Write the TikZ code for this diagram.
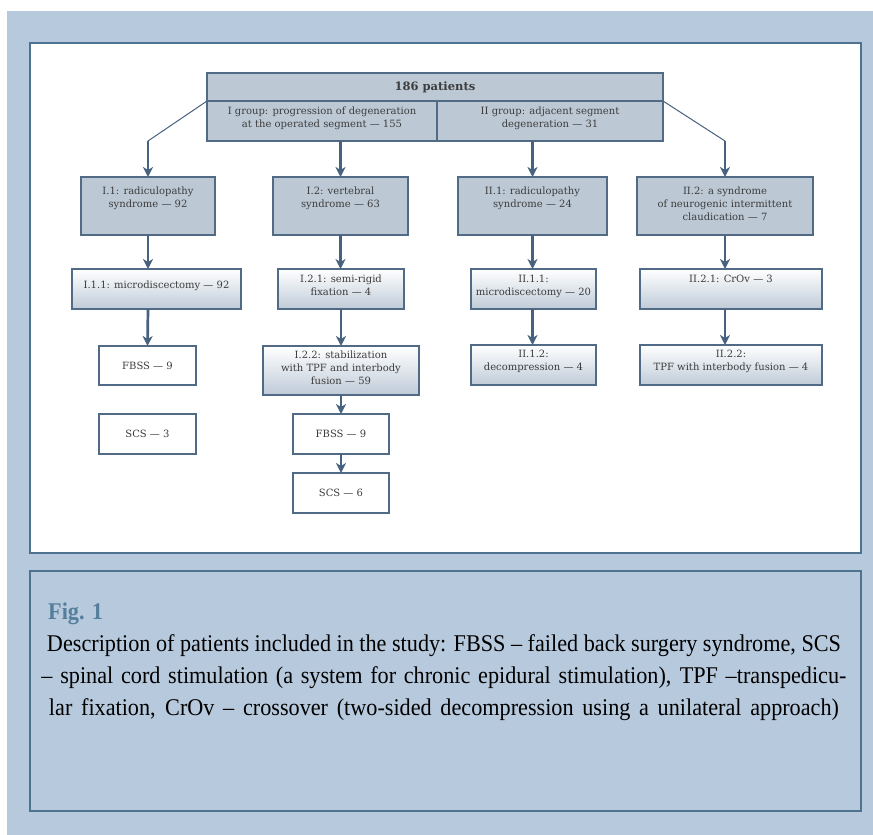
\documentclass[tikz,border=0pt]{standalone}
\usepackage{fontspec}
\setmainfont{DejaVu Serif}
\newfontfamily\capfont[FakeStretch=0.925]{Liberation Serif}
\usetikzlibrary{arrows.meta}
\definecolor{bgblue}{HTML}{B7C9DD}
\definecolor{panelline}{HTML}{4E7391}
\definecolor{boxline}{HTML}{516B86}
\definecolor{boxfill}{HTML}{BCC9D5}
\definecolor{gradfill}{HTML}{BFCBD8}
\definecolor{arrowblue}{HTML}{47627F}
\definecolor{figblue}{HTML}{557E9C}
\definecolor{textgray}{HTML}{3C3C3C}
\newcommand{\boxtext}{\fontsize{10}{13}\selectfont}
\tikzset{
  panel/.style={draw=panelline, fill=white, line width=2.4pt},
  capframe/.style={draw=panelline, fill=bgblue, line width=1.3pt},
  groupbox/.style={draw=boxline, fill=boxfill, line width=1.3pt,
                   inner sep=0pt, outer sep=0pt},
  stepbox/.style={draw=boxline, top color=white, bottom color=gradfill,
                  line width=1.3pt, inner sep=0pt, outer sep=0pt},
  endbox/.style={draw=boxline, fill=white, line width=1.3pt,
                 inner sep=0pt, outer sep=0pt, font=\boxtext, text=textgray},
  intext/.style={anchor=north, align=center, inner sep=0pt,
                 font=\boxtext, text=textgray},
  flow/.style={-{Stealth[length=10pt,width=10pt,inset=3pt]},
               draw=arrowblue, line width=2.7pt},
  branch/.style={draw=arrowblue, line width=1pt}
}
\begin{document}
\begin{tikzpicture}[x=1pt,y=-1pt]
  \path[use as bounding box] (0,0) rectangle (873,835);
  \fill[bgblue] (7,11) rectangle (873,835);
  \path[panel] (30,43) rectangle (861,553);
  \path[capframe] (30,571) rectangle (861,811);

  % top box: all patients and the two groups
  \node[groupbox, minimum width=456, minimum height=28,
        font=\boxtext\fontsize{11.5}{13}\selectfont\bfseries, text=textgray]
    (total) at (435,87) {186 patients};
  \node[groupbox, minimum width=230, minimum height=40,
        label={[intext,yshift=-6pt]north:{I group: progression of degeneration\\at the operated segment --- 155}}]
    (grpone) at (322,121) {};
  \node[groupbox, minimum width=226, minimum height=40,
        label={[intext,yshift=-6pt]north:{II group: adjacent segment\\degeneration --- 31}}]
    (grptwo) at (550,121) {};

  % syndromes
  \node[groupbox, minimum width=134, minimum height=58,
        label={[intext,yshift=-10pt]north:{I.1: radiculopathy\\syndrome --- 92}}]
    (synone) at (148,206) {};
  \node[groupbox, minimum width=135, minimum height=58,
        label={[intext,yshift=-10pt]north:{I.2: vertebral\\syndrome --- 63}}]
    (syntwo) at (340.5,206) {};
  \node[groupbox, minimum width=149, minimum height=58,
        label={[intext,yshift=-10pt]north:{II.1: radiculopathy\\syndrome --- 24}}]
    (synthree) at (532.5,206) {};
  \node[groupbox, minimum width=176, minimum height=58,
        label={[intext,yshift=-10pt]north:{II.2: a syndrome\\of neurogenic intermittent\\claudication --- 7}}]
    (synfour) at (725,206) {};

  % surgery
  \node[stepbox, minimum width=169, minimum height=40,
        label={[intext,yshift=-12pt]north:{I.1.1: microdiscectomy --- 92}}]
    (opone) at (156.5,289) {};
  \node[stepbox, minimum width=126, minimum height=40,
        label={[intext,yshift=-6pt]north:{I.2.1: semi-rigid\\fixation --- 4}}]
    (optwo) at (341,289) {};
  \node[stepbox, minimum width=125, minimum height=40,
        label={[intext,yshift=-6pt]north:{II.1.1:\\microdiscectomy --- 20}}]
    (opthree) at (533.5,289) {};
  \node[stepbox, minimum width=182, minimum height=40,
        label={[intext,yshift=-6pt]north:{II.2.1: CrOv --- 3}}]
    (opfour) at (731,289) {};

  \node[stepbox, minimum width=156, minimum height=49,
        label={[intext,yshift=-5pt]north:{I.2.2: stabilization\\with TPF and interbody\\fusion --- 59}}]
    (stabil) at (341,370.5) {};
  \node[stepbox, minimum width=125, minimum height=40,
        label={[intext,yshift=-5pt]north:{II.1.2:\\decompression --- 4}}]
    (decomp) at (533.5,365) {};
  \node[stepbox, minimum width=182, minimum height=40,
        label={[intext,yshift=-5pt]north:{II.2.2:\\TPF with interbody fusion --- 4}}]
    (tpffus) at (731,365) {};

  % outcomes
  \node[endbox, minimum width=97, minimum height=39] (fbssa) at (147.5,365.5) {FBSS --- 9};
  \node[endbox, minimum width=97, minimum height=40] (scsa) at (147.5,434) {SCS --- 3};
  \node[endbox, minimum width=96, minimum height=40] (fbssb) at (341,434) {FBSS --- 9};
  \node[endbox, minimum width=96, minimum height=40] (scsb) at (341,493) {SCS --- 6};

  % connectors
  \coordinate (lbend) at (synone.north |- grpone.south);
  \coordinate (rbend) at (synfour.north |- grptwo.south);
  \draw[branch] (grpone.north west) -- (lbend);
  \draw[branch] (grptwo.north east) -- (rbend);
  \draw[flow] (lbend) -- (synone.north);
  \draw[flow] (rbend) -- (synfour.north);
  \draw[flow] (syntwo.north |- grpone.south) -- (syntwo.north);
  \draw[flow] (synthree.north |- grptwo.south) -- (synthree.north);

  \draw[flow] (synone.south) -- (synone.south |- opone.north);
  \draw[flow] (synone.south |- opone.south) -- (fbssa.north);
  \draw[flow] (syntwo.south) -- (syntwo.south |- optwo.north);
  \draw[flow] (optwo.south) -- (stabil.north);
  \draw[flow] (stabil.south) -- (fbssb.north);
  \draw[flow] (fbssb.south) -- (scsb.north);
  \draw[flow] (synthree.south) -- (synthree.south |- opthree.north);
  \draw[flow] (synthree.south |- opthree.south) -- (synthree.south |- decomp.north);
  \draw[flow] (synfour.south) -- (synfour.south |- opfour.north);
  \draw[flow] (synfour.south |- opfour.south) -- (synfour.south |- tpffus.north);

  % caption
  \node[anchor=base west, inner sep=0pt, text=figblue,
        font=\capfont\bfseries\fontsize{24}{24}\selectfont]
    (figno) at (48,619) {Fig. 1};
  \node[anchor=north, inner sep=0pt, align=center,
        font=\capfont\fontsize{24}{32}\selectfont, text=black]
    (captext) at (444,634) {\makebox[794pt][s]{Description of patients included in the study: FBSS – failed back surgery syndrome, SCS}\\
      \makebox[805pt][s]{– spinal cord stimulation (a system for chronic epidural stimulation), TPF –transpedicu-}\\
      \makebox[790pt][s]{lar fixation, CrOv – crossover (two-sided decompression using a unilateral approach)}};
\end{tikzpicture}
\end{document}
